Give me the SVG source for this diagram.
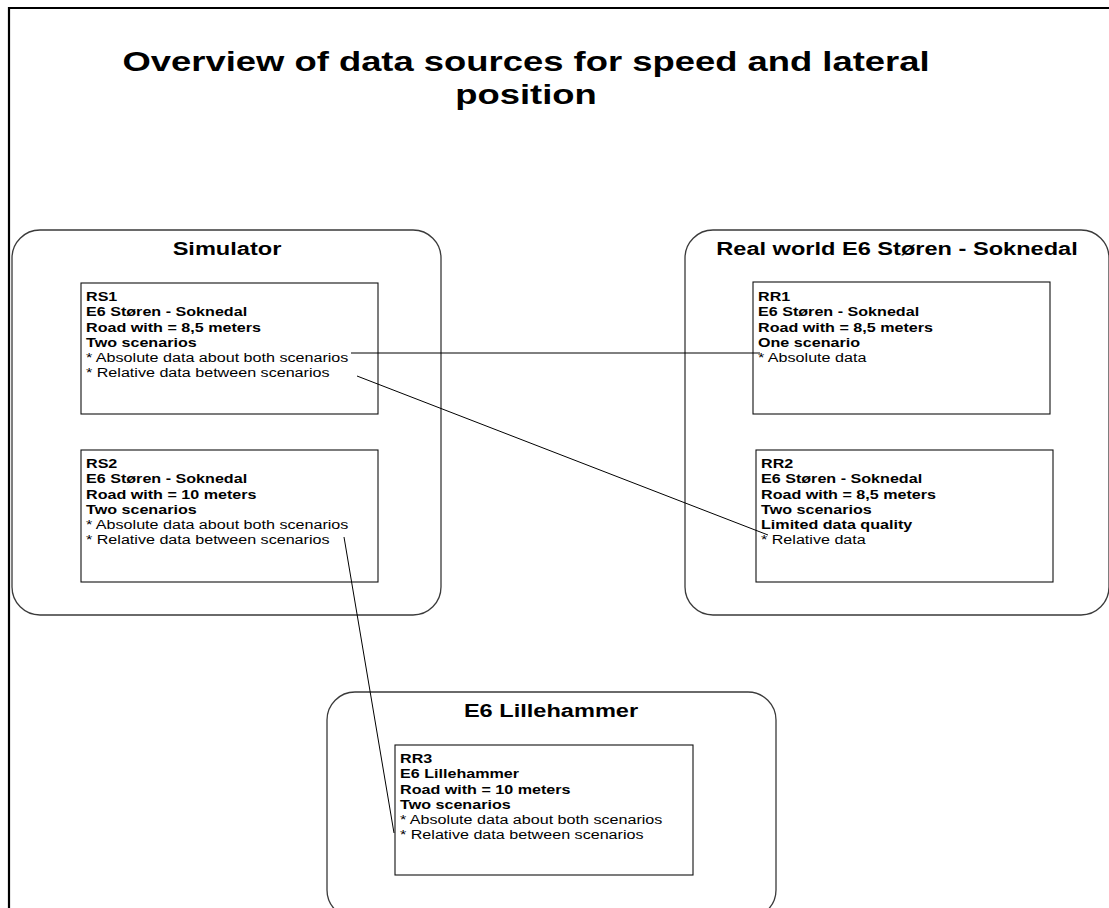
<svg xmlns="http://www.w3.org/2000/svg" width="1109" height="908" viewBox="0 0 1109 908">
<style>
text{font-family:"Liberation Sans",Arial,sans-serif;fill:#000}
.title{font-size:28px;font-weight:bold;text-anchor:middle}
.ctitle{font-size:18px;font-weight:bold;text-anchor:middle}
.b{font-size:12.3px;font-weight:bold}
.r{font-size:12.3px}
.cont{fill:#fff;stroke:#3a3a3a;stroke-width:1.3}
.box{fill:#fff;stroke:#111;stroke-width:1.1}
.shadow{fill:none;stroke:#888;stroke-width:1}
.conn{fill:none;stroke:#000;stroke-width:1}
</style>
<rect x="0" y="0" width="1109" height="908" fill="#fff"/>
<g id="page-border">
<path d="M9 908 V8 H1109" fill="none" stroke="#000" stroke-width="2.2"/>
</g>
<g id="title" transform="translate(526,0) scale(1.3,1)">
<text class="title" x="0" y="71">Overview of data sources for speed and lateral</text>
<text class="title" x="0" y="104">position</text>
</g>
<g id="simulator">
<rect class="cont" x="12" y="230" width="429" height="385" rx="28" ry="28"/>
<g transform="translate(227,0) scale(1.31,1)"><text class="ctitle" x="0" y="255">Simulator</text></g>
</g>
<g id="realworld">
<rect class="cont" x="685" y="230" width="424" height="385" rx="28" ry="28"/>
<g transform="translate(897,0) scale(1.31,1)"><text class="ctitle" x="0" y="255">Real world E6 Støren - Soknedal</text></g>
</g>
<g id="lillehammer">
<rect class="cont" x="327" y="692" width="449" height="226" rx="28" ry="28"/>
<g transform="translate(551,0) scale(1.31,1)"><text class="ctitle" x="0" y="717">E6 Lillehammer</text></g>
</g>
<g id="RS1">
<rect class="box" x="81" y="283" width="297" height="131"/>
<g transform="translate(86,0) scale(1.31,1)">
<text class="b" x="0" y="301">RS1</text>
<text class="b" x="0" y="316.3">E6 Støren - Soknedal</text>
<text class="b" x="0" y="331.6">Road with = 8,5 meters</text>
<text class="b" x="0" y="346.9">Two scenarios</text>
<text class="r" x="0" y="362.2">* Absolute data about both scenarios</text>
<text class="r" x="0" y="377.5">* Relative data between scenarios</text>
</g>
</g>
<g id="RS2">
<rect class="box" x="81" y="450" width="297" height="132"/>
<g transform="translate(86,0) scale(1.31,1)">
<text class="b" x="0" y="468">RS2</text>
<text class="b" x="0" y="483.3">E6 Støren - Soknedal</text>
<text class="b" x="0" y="498.6">Road with = 10 meters</text>
<text class="b" x="0" y="513.9">Two scenarios</text>
<text class="r" x="0" y="529.2">* Absolute data about both scenarios</text>
<text class="r" x="0" y="544.5">* Relative data between scenarios</text>
</g>
</g>
<g id="RR1">
<rect class="box" x="753" y="282" width="297" height="132"/>
<g transform="translate(758,0) scale(1.31,1)">
<text class="b" x="0" y="301">RR1</text>
<text class="b" x="0" y="316.3">E6 Støren - Soknedal</text>
<text class="b" x="0" y="331.6">Road with = 8,5 meters</text>
<text class="b" x="0" y="346.9">One scenario</text>
<text class="r" x="0" y="362.2">* Absolute data</text>
</g>
</g>
<g id="RR2">
<rect class="box" x="756" y="450" width="297" height="132"/>
<g transform="translate(761,0) scale(1.31,1)">
<text class="b" x="0" y="468">RR2</text>
<text class="b" x="0" y="483.3">E6 Støren - Soknedal</text>
<text class="b" x="0" y="498.6">Road with = 8,5 meters</text>
<text class="b" x="0" y="513.9">Two scenarios</text>
<text class="b" x="0" y="529.2">Limited data quality</text>
<text class="r" x="0" y="544.5">* Relative data</text>
</g>
</g>
<g id="RR3">
<rect class="box" x="395" y="745" width="298" height="130"/>
<g transform="translate(400,0) scale(1.31,1)">
<text class="b" x="0" y="763">RR3</text>
<text class="b" x="0" y="778.3">E6 Lillehammer</text>
<text class="b" x="0" y="793.6">Road with = 10 meters</text>
<text class="b" x="0" y="808.9">Two scenarios</text>
<text class="r" x="0" y="824.2">* Absolute data about both scenarios</text>
<text class="r" x="0" y="839.5">* Relative data between scenarios</text>
</g>
</g>
<g id="connectors">
<line class="conn" x1="351" y1="353" x2="760" y2="353"/>
<line class="conn" x1="357" y1="376" x2="768" y2="535"/>
<line class="conn" x1="344" y1="537" x2="394" y2="833"/>
</g>
</svg>
